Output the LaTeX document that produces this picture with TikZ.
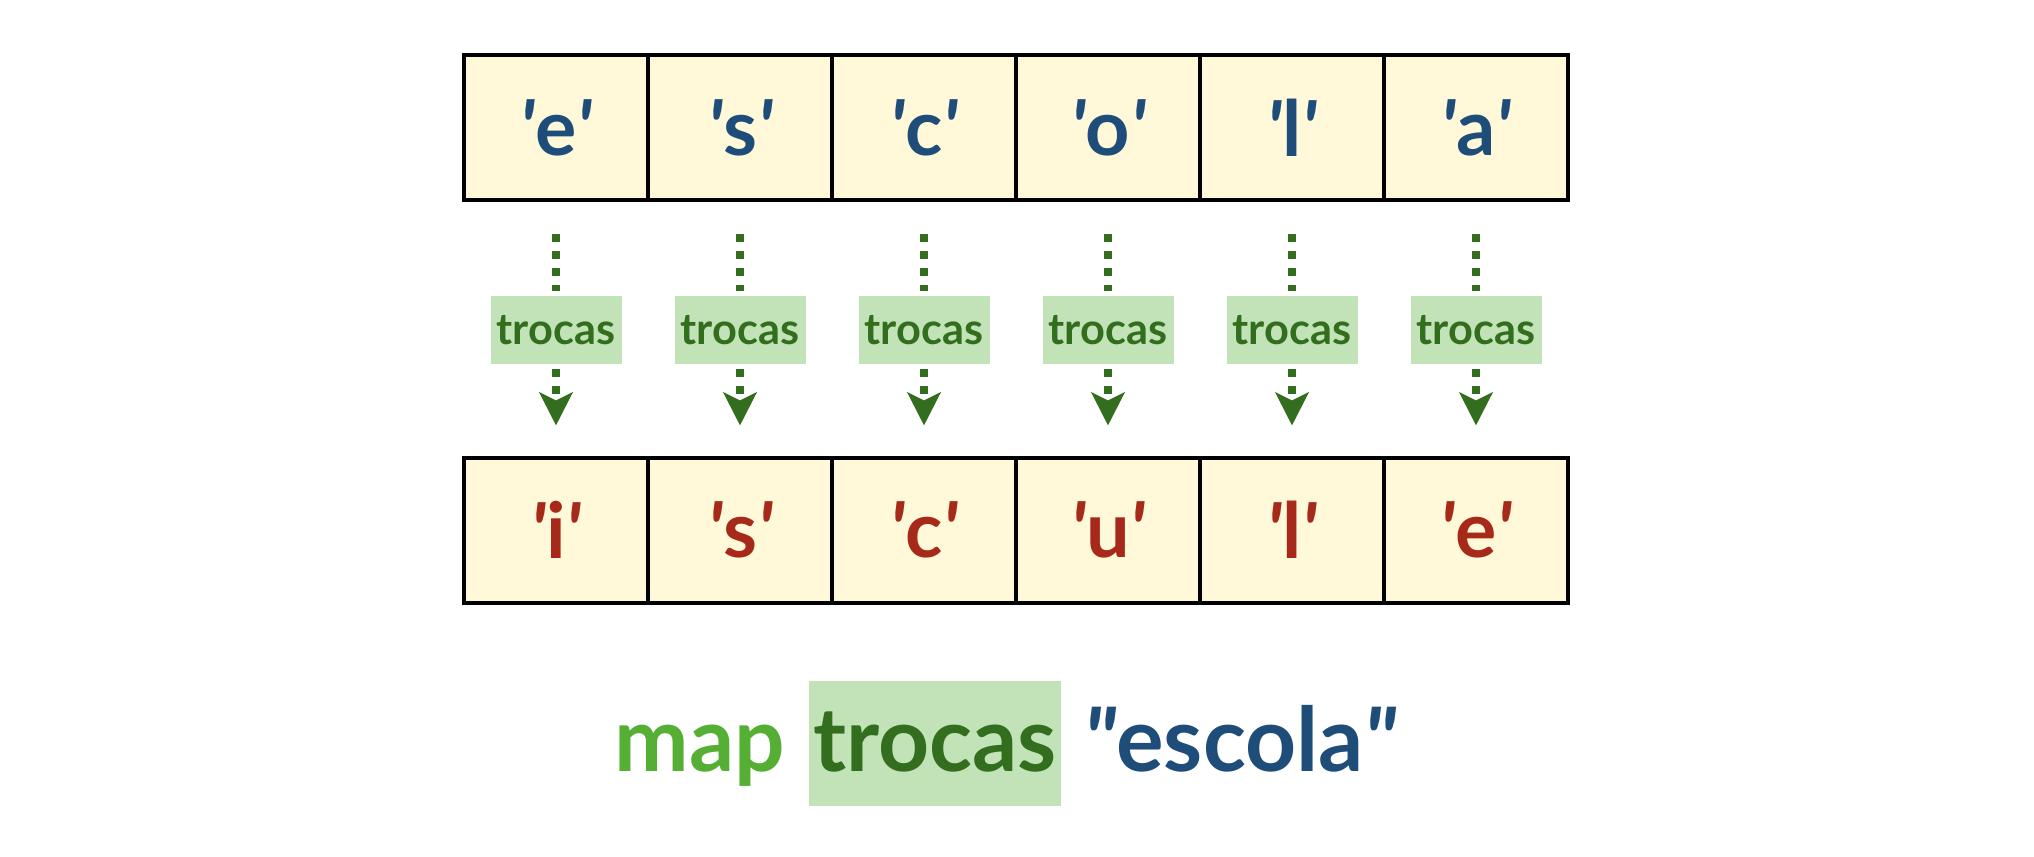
\documentclass[tikz,border=0pt]{standalone}
\usepackage{fontspec}
\setmainfont{Lato}
\newfontfamily\qf{Lato}[Ligatures=TeXOff]
\usetikzlibrary{arrows.meta}
\definecolor{cblue}{HTML}{1F4D7A}
\definecolor{cred}{HTML}{A6291A}
\definecolor{cfill}{HTML}{FFF9DA}
\definecolor{dgreen}{HTML}{326E1E}
\definecolor{lgreen}{HTML}{C1E3B7}
\definecolor{mgreen}{HTML}{55AF34}
\newcommand{\pq}{{\qf\bfseries\itshape\char"27}}
\newcommand{\dq}{{\qf\bfseries\itshape\char"22}}
\begin{document}
\begin{tikzpicture}[x=0.03cm,y=-0.03cm,
 cell/.style={draw=black, line width=0.12cm, fill=cfill, minimum width=5.52cm, minimum height=4.35cm, inner sep=0, font=\fontsize{66}{70}\selectfont\bfseries},
 topcell/.style={cell, text=cblue},
 botcell/.style={cell, text=cred},
 lab/.style={fill=lgreen, text=dgreen, minimum width=3.93cm, minimum height=2.04cm, inner sep=0, font=\fontsize{37}{40}\selectfont\bfseries},
 dotline/.style={draw=dgreen, line width=0.24cm, dash pattern=on 0.24cm off 0.27cm},
 bigtext/.style={inner sep=0, font=\fontsize{76}{80}\selectfont\bfseries},
]
\useasboundingbox (0,0) rectangle (2034,856);
\foreach \a/\b [count=\i] in {e/i,s/s,c/c,o/u,l/l,a/e}{
  \node[topcell] (t\i) at ({556+184*(\i-1)},127.5) {\pq\a\pq};
  \node[botcell] (b\i) at ({556+184*(\i-1)},530) {\pq\b\pq};
  \node[lab] (l\i) at ({556+184*(\i-1)},330) {trocas};
  \draw[dotline, shorten <=0.96cm, shorten >=0.15cm] (t\i) -- (l\i);
  \draw[dotline, shorten <=0.15cm, shorten >=0.9cm, -{Stealth[length=0.99cm,width=0.99cm,inset=0.24cm]}] (l\i) -- (b\i);
}
\node[fill=lgreen, minimum width=7.56cm, minimum height=3.75cm, inner sep=0] (hl) at (935,743.5) {};
\node[bigtext, anchor=base, text=dgreen] (w2) at (935,771) {trocas};
\node[bigtext, anchor=base east, text=mgreen] (w1) at (785,771) {map};
\node[bigtext, anchor=base west, text=cblue] (w3) at (1083,771) {\dq escola\dq};
\end{tikzpicture}
\end{document}
